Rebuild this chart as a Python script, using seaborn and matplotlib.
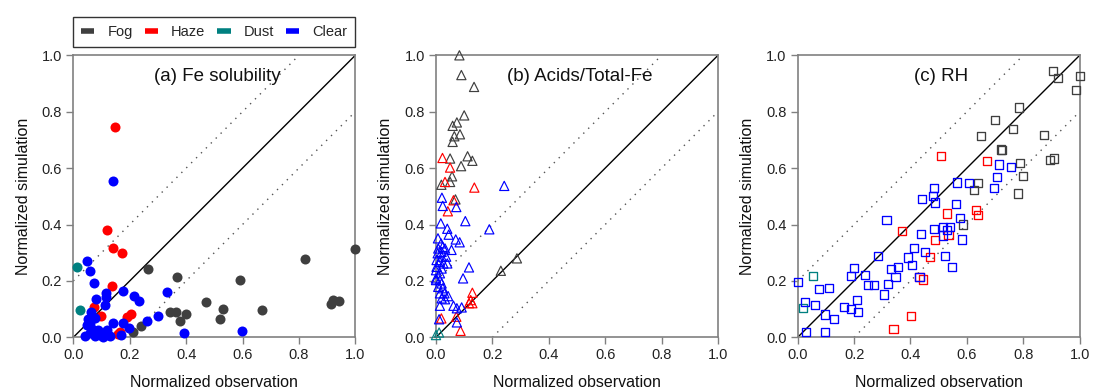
import numpy as np
import pandas as pd
import matplotlib
matplotlib.use("Agg")
import matplotlib.pyplot as plt
from matplotlib.lines import Line2D
import seaborn as sns

# ---------------- data ----------------
categories = ["Fog", "Haze", "Dust", "Clear"]
colors = ["#3f3f3f", "#ff0000", "#008080", "#0000ff"]
ticks = [0.0, 0.2, 0.4, 0.6, 0.8, 1.0]
tick_labels = ["0.0", "0.2", "0.4", "0.6", "0.8", "1.0"]
panel_titles = ["(a) Fe solubility", "(b) Acids/Total-Fe", "(c) RH"]

# Panel (a) Fe solubility
a_fog_x = [0.264, 0.368, 0.590, 0.820, 1.0, 0.472, 0.531, 0.670, 0.914, 0.922, 0.943, 0.344, 0.365, 0.399, 0.379, 0.519, 0.239, 0.212]
a_fog_y = [0.242, 0.214, 0.205, 0.276, 0.314, 0.126, 0.101, 0.098, 0.118, 0.132, 0.128, 0.090, 0.090, 0.084, 0.057, 0.065, 0.040, 0.020]
a_haze_x = [0.147, 0.121, 0.140, 0.173, 0.136, 0.075, 0.097, 0.192, 0.203, 0.166, 0.160, 0.104, 0.071]
a_haze_y = [0.746, 0.382, 0.317, 0.300, 0.181, 0.109, 0.075, 0.072, 0.084, 0.020, 0.012, 0.008, 0.014]
a_dust_x = [0.012, 0.024]
a_dust_y = [0.250, 0.096]
a_clear_x = [0.141, 0.047, 0.059, 0.075, 0.115, 0.116, 0.177, 0.215, 0.234, 0.332, 0.079, 0.111, 0.063, 0.077,
             0.301, 0.260, 0.142, 0.177, 0.199, 0.394, 0.598, 0.169, 0.118, 0.041, 0.059, 0.077, 0.095, 0.106,
             0.130, 0.071, 0.089, 0.101, 0.059, 0.047, 0.053, 0.064]
a_clear_y = [0.555, 0.270, 0.235, 0.194, 0.156, 0.144, 0.164, 0.148, 0.130, 0.161, 0.135, 0.115, 0.089, 0.067,
             0.076, 0.057, 0.050, 0.050, 0.032, 0.015, 0.022, 0.008, 0.026, 0.005, 0.014, 0.005, 0.008, 0.002,
             0.005, 0.026, 0.026, 0.014, 0.049, 0.044, 0.064, 0.032]

# Panel (b) Acids/Total-Fe
b_fog_x = [0.083, 0.090, 0.135, 0.100, 0.074, 0.059, 0.065, 0.085, 0.059, 0.112, 0.129, 0.050, 0.089, 0.057, 0.050, 0.019, 0.069, 0.230, 0.287]
b_fog_y = [1.000, 0.930, 0.888, 0.787, 0.762, 0.750, 0.713, 0.720, 0.693, 0.642, 0.626, 0.634, 0.607, 0.571, 0.551, 0.541, 0.489, 0.236, 0.280]
b_haze_x = [0.023, 0.050, 0.032, 0.136, 0.062, 0.042, 0.129, 0.123, 0.117, 0.129, 0.019, 0.072, 0.087]
b_haze_y = [0.636, 0.602, 0.551, 0.531, 0.486, 0.447, 0.158, 0.132, 0.121, 0.121, 0.067, 0.073, 0.023]
b_dust_x = [0.000, 0.011]
b_dust_y = [0.008, 0.017]
b_clear_x = [0.242, 0.021, 0.024, 0.072, 0.104, 0.017, 0.189, 0.040, 0.045, 0.070, 0.084, 0.007, 0.055, 0.117,
             0.096, 0.043, 0.032, 0.014, 0.062, 0.074, 0.091, 0.011, 0.074, 0.000, 0.018, 0.024, 0.008, 0.020,
             0.032, 0.006, 0.020, 0.036, 0.002, 0.014, 0.026, 0.040, 0.002, 0.020, 0.000, 0.014, 0.000, 0.014,
             0.020, 0.008, 0.024, 0.014, 0.030, 0.020]
b_clear_y = [0.537, 0.495, 0.466, 0.462, 0.412, 0.404, 0.383, 0.385, 0.364, 0.347, 0.337, 0.351, 0.310, 0.248,
             0.209, 0.146, 0.135, 0.112, 0.112, 0.103, 0.106, 0.064, 0.053, 0.203, 0.333, 0.321, 0.315, 0.303,
             0.315, 0.298, 0.286, 0.286, 0.274, 0.268, 0.262, 0.262, 0.250, 0.244, 0.238, 0.227, 0.209, 0.203,
             0.191, 0.179, 0.174, 0.156, 0.156, 0.138]

# Panel (c) RH
c_fog_x = [0.905, 0.924, 1.000, 0.988, 0.785, 0.701, 0.765, 0.649, 0.873, 0.721, 0.724, 0.787, 0.894, 0.910, 0.799, 0.782, 0.639, 0.624, 0.587]
c_fog_y = [0.946, 0.920, 0.926, 0.876, 0.815, 0.770, 0.738, 0.713, 0.719, 0.666, 0.663, 0.619, 0.630, 0.634, 0.571, 0.510, 0.548, 0.522, 0.400]
c_haze_x = [0.508, 0.673, 0.530, 0.632, 0.640, 0.370, 0.488, 0.535, 0.469, 0.432, 0.445, 0.402, 0.340]
c_haze_y = [0.643, 0.626, 0.439, 0.450, 0.434, 0.378, 0.345, 0.364, 0.286, 0.215, 0.205, 0.076, 0.030]
c_dust_x = [0.053, 0.018]
c_dust_y = [0.217, 0.103]
c_clear_x = [0.001, 0.027, 0.060, 0.075, 0.110, 0.030, 0.097, 0.097, 0.128, 0.164, 0.188, 0.211, 0.213, 0.188,
             0.199, 0.240, 0.248, 0.272, 0.284, 0.307, 0.315, 0.320, 0.330, 0.347, 0.355, 0.391, 0.407, 0.413,
             0.438, 0.441, 0.432, 0.451, 0.480, 0.483, 0.488, 0.483, 0.515, 0.515, 0.523, 0.529, 0.541, 0.546,
             0.562, 0.566, 0.576, 0.582, 0.607, 0.697, 0.707, 0.715, 0.756]
c_clear_y = [0.196, 0.126, 0.115, 0.170, 0.174, 0.020, 0.081, 0.020, 0.065, 0.109, 0.099, 0.132, 0.091, 0.217,
             0.246, 0.221, 0.185, 0.187, 0.289, 0.152, 0.416, 0.188, 0.243, 0.213, 0.250, 0.283, 0.256, 0.318,
             0.366, 0.489, 0.215, 0.301, 0.502, 0.530, 0.478, 0.384, 0.391, 0.361, 0.289, 0.380, 0.392, 0.250,
             0.472, 0.549, 0.424, 0.347, 0.548, 0.531, 0.570, 0.613, 0.604]

panels = [
    dict(x=[a_fog_x, a_haze_x, a_dust_x, a_clear_x], y=[a_fog_y, a_haze_y, a_dust_y, a_clear_y]),
    dict(x=[b_fog_x, b_haze_x, b_dust_x, b_clear_x], y=[b_fog_y, b_haze_y, b_dust_y, b_clear_y]),
    dict(x=[c_fog_x, c_haze_x, c_dust_x, c_clear_x], y=[c_fog_y, c_haze_y, c_dust_y, c_clear_y]),
]

# ---------------- style ----------------
sns.set_style("ticks")
plt.rcParams["font.family"] = ["Liberation Sans", "DejaVu Sans"]
spine_color = "#808080"

fig = plt.figure(figsize=(11.01, 3.91), dpi=100)
lefts = [0.0666, 0.3960, 0.7245]
axes = [fig.add_axes([l, 0.1373, 0.2561, 0.7212]) for l in lefts]

marker_styles = [
    dict(marker="o", s=52, linewidth=0, filled=True),
    dict(marker="^", s=44, linewidth=0.85, filled=False),
    dict(marker="s", s=34, linewidth=0.95, filled=False),
]

line_x = np.array([0.0, 1.0])
for i, (ax, pdata) in enumerate(zip(axes, panels)):
    # reference lines
    ax.plot(line_x, line_x, color="black", lw=1.0, zorder=1)
    ax.plot([0.0, 0.8], [0.2, 1.0], color="#555555", lw=1.0, ls=(0, (1, 4)), zorder=1)
    ax.plot([0.2, 1.0], [0.0, 0.8], color="#555555", lw=1.0, ls=(0, (1, 4)), zorder=1)

    ms = marker_styles[i]
    for cat, col, xs, ys in zip(categories, colors, pdata["x"], pdata["y"]):
        df = pd.DataFrame({"obs": xs, "sim": ys})
        if ms["filled"]:
            sns.scatterplot(data=df, x="obs", y="sim", ax=ax, color=col, marker=ms["marker"],
                            s=ms["s"], linewidth=0, edgecolor=col, clip_on=False, zorder=3)
        else:
            sns.scatterplot(data=df, x="obs", y="sim", ax=ax, marker=ms["marker"], s=ms["s"],
                            facecolor="none", edgecolor=col, linewidth=ms["linewidth"],
                            clip_on=False, zorder=3)

    ax.set_xlim(0, 1)
    ax.set_ylim(0, 1)
    ax.set_xticks(ticks)
    ax.set_yticks(ticks)
    ax.set_xticklabels(tick_labels)
    ax.set_yticklabels(tick_labels)
    ax.tick_params(axis="both", direction="out", length=5, width=1, color=spine_color,
                   labelsize=10.5, labelcolor="#222222", pad=3)
    for sp in ax.spines.values():
        sp.set_visible(True)
        sp.set_color(spine_color)
        sp.set_linewidth(1.2)
    ax.set_xlabel("Normalized observation", fontsize=11.5, labelpad=9, color="#111111")
    ax.set_ylabel("Normalized simulation", fontsize=11.5, labelpad=8, color="#111111")
    ax.text(0.51, 0.925, panel_titles[i], transform=ax.transAxes, ha="center", va="center",
            fontsize=13.5, color="#111111")

handles = [Line2D([0], [0], color=c, lw=4, solid_capstyle="butt") for c in colors]
leg = axes[0].legend(handles, categories, loc="lower left", bbox_to_anchor=(0, 1.03, 1, 0.11),
                     mode="expand", ncol=4, frameon=True, fancybox=False, borderaxespad=0,
                     fontsize=10.5, handlelength=0.9, handletextpad=0.9, columnspacing=1.0,
                     borderpad=0.55)
leg.get_frame().set_edgecolor("black")
leg.get_frame().set_linewidth(1.0)

fig.savefig("out.png", dpi=100)
